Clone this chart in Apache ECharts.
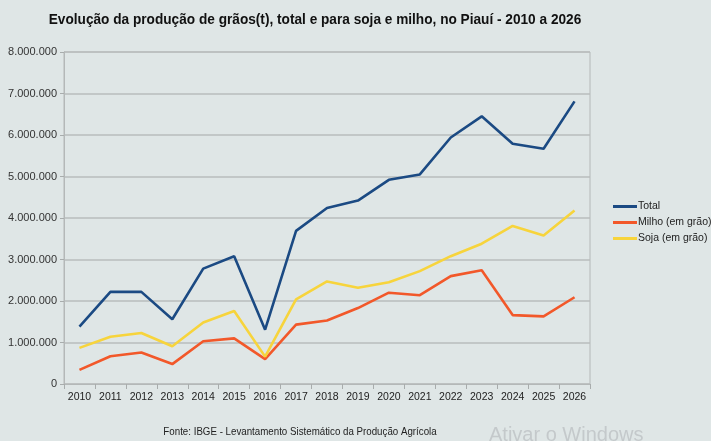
<!DOCTYPE html>
<html>
<head>
    <meta charset="utf-8">
    <title>Produção de grãos - Piauí</title>
    <script src="https://cdn.jsdelivr.net/npm/echarts@6/dist/echarts.min.js"></script>
    <style type="text/css">
        html, body { margin: 0; padding: 0; background: #dfe6e6; }
        #chart { width: 711px; height: 441px; }
    </style>
</head>
<body>
<div id="chart"></div>
<script>
    var anos = ['2010', '2011', '2012', '2013', '2014', '2015', '2016', '2017', '2018',
        '2019', '2020', '2021', '2022', '2023', '2024', '2025', '2026'];
    var total = [1380000, 2220000, 2220000, 1560000, 2780000, 3080000, 1310000, 3690000, 4240000,
        4420000, 4920000, 5050000, 5940000, 6450000, 5790000, 5670000, 6810000];
    var milho = [340000, 670000, 760000, 480000, 1030000, 1100000, 600000, 1430000, 1530000,
        1830000, 2200000, 2140000, 2600000, 2740000, 1660000, 1630000, 2090000];
    var soja = [870000, 1140000, 1230000, 910000, 1480000, 1760000, 660000, 2040000, 2470000,
        2320000, 2450000, 2720000, 3080000, 3380000, 3810000, 3580000, 4180000];

    var fonte = "'Liberation Sans', Arial, sans-serif";

    function milhar(v) {
        // 8000000 -> 8.000.000
        return String(v).replace(/\B(?=(\d{3})+(?!\d))/g, '.');
    }

    var chart = echarts.init(document.getElementById('chart'));
    var option = {
        backgroundColor: '#dfe6e6',
        animation: false,
        legend: {
            orient: 'vertical',
            left: 608,
            top: 196,
            itemWidth: 24,
            itemHeight: 3,
            itemGap: 5,
            icon: 'rect',
            textStyle: {fontFamily: fonte, fontSize: 10.5, color: '#222', padding: [0, 0, 0, -4]},
            data: ['Total', 'Milho (em grão)', 'Soja (em grão)']
        },
        grid: {left: 64, right: 121, top: 52, bottom: 57, show: true, borderColor: '#b4b8b8', borderWidth: 1},
        xAxis: {
            type: 'category',
            data: anos,
            boundaryGap: true,
            axisLine: {lineStyle: {color: '#b4b8b8'}},
            axisTick: {show: true, length: 5, lineStyle: {color: '#a8acac'}},
            axisLabel: {fontFamily: fonte, fontSize: 10.5, color: '#222', margin: 8, interval: 0}
        },
        yAxis: {
            type: 'value',
            min: 0,
            max: 8000000,
            interval: 1000000,
            axisLine: {show: true, lineStyle: {color: '#b4b8b8'}},
            axisTick: {show: true, length: 4, lineStyle: {color: '#a8acac'}},
            splitLine: {lineStyle: {color: '#b8bcbc', width: 1.5}},
            axisLabel: {fontFamily: fonte, fontSize: 11, color: '#333', margin: 7, formatter: milhar}
        },
        graphic: [
            {
                type: 'text', x: 315, y: 12, scaleX: 0.91, originX: 0,
                style: {
                    text: 'Evolução da produção de grãos(t), total e para soja e milho, no Piauí - 2010 a 2026',
                    fontFamily: fonte, fontSize: 15, fontWeight: 'bold', fill: '#111', align: 'center'
                }
            },
            {
                type: 'text', x: 300, y: 426, scaleX: 0.885,
                style: {
                    text: 'Fonte: IBGE - Levantamento Sistemático da Produção Agrícola',
                    fontFamily: fonte, fontSize: 11, fill: '#222', align: 'center'
                }
            },
            {
                type: 'text', x: 489, y: 425,
                style: {text: 'Ativar o Windows', fontFamily: fonte, fontSize: 20, fill: '#c4c9cb'}
            }
        ],
        series: [
            {name: 'Total', type: 'line', data: total, symbol: 'none', color: '#1b4a83', lineStyle: {width: 2.6}},
            {name: 'Milho (em grão)', type: 'line', data: milho, symbol: 'none', color: '#f2582a', lineStyle: {width: 2.6}},
            {name: 'Soja (em grão)', type: 'line', data: soja, symbol: 'none', color: '#f7d43c', lineStyle: {width: 2.6}}
        ]
    };
    chart.setOption(option);
</script>
</body>
</html>
